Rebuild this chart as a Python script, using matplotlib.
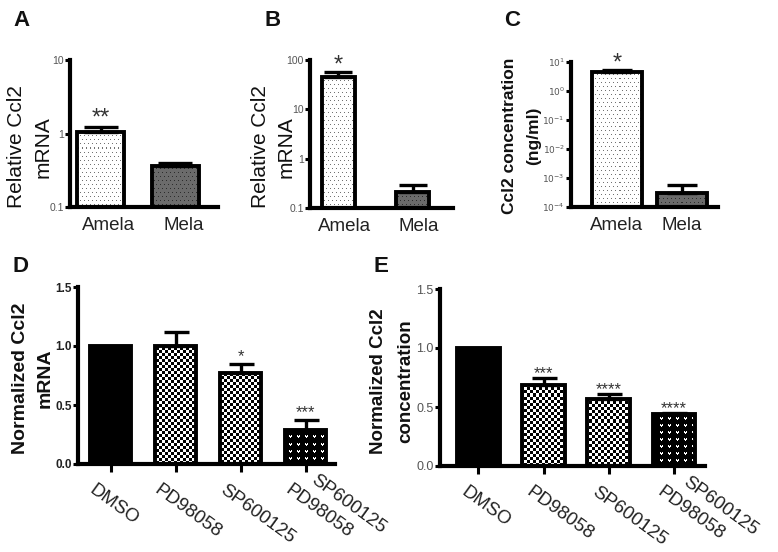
import numpy as np
import matplotlib
matplotlib.use("Agg")
import matplotlib.pyplot as plt
from matplotlib.transforms import ScaledTranslation, blended_transform_factory
from matplotlib.ticker import FixedLocator, NullLocator

plt.rcParams['font.family'] = ['Liberation Sans', 'DejaVu Sans']

# ---------------- data ----------------
A_cats = ["Amela", "Mela"]
A_vals = [1.06, 0.36]
A_err = [0.16, 0.04]
A_stars = ["**", ""]

B_cats = ["Amela", "Mela"]
B_vals = [45.0, 0.21]
B_err = [12.0, 0.08]
B_stars = ["*", ""]

C_cats = ["Amela", "Mela"]
C_vals = [4.5, 3.0e-4]
C_err = [0.8, 2.7e-4]
C_stars = ["*", ""]

D_cats = ["DMSO", "PD98058", "SP600125", "SP600125\nPD98058"]
D_vals = [1.0, 1.0, 0.77, 0.29]
D_err = [0.0, 0.12, 0.08, 0.08]
D_stars = ["", "", "*", "***"]

E_cats = ["DMSO", "PD98058", "SP600125", "SP600125\nPD98058"]
E_vals = [1.0, 0.69, 0.57, 0.44]
E_err = [0.0, 0.055, 0.04, 0.01]
E_stars = ["", "***", "****", "****"]

W, H = 778, 552
fig = plt.figure(figsize=(W / 100, H / 100), dpi=100)


def rect(x0, x1, y0, y1):
    return [x0 / W, 1 - y1 / H, (x1 - x0) / W, (y1 - y0) / H]


def pattern(kind, w, h):
    yy, xx = np.mgrid[0:h, 0:w]
    img = np.ones((h, w, 3))
    if kind == "dots_light":
        m = ((xx + 2 * ((yy // 4) % 2)) % 4 == 0) & (yy % 4 == 0)
        img[m] = 0.45
    elif kind == "dots_dark":
        img[:] = 0.42
        m = ((xx + 2 * ((yy // 4) % 2)) % 4 == 0) & (yy % 4 == 0)
        img[m] = 0.18
    elif kind == "check":
        m = ((xx // 3) + (yy // 3)) % 2 == 0
        img[m] = 0.0
    elif kind == "diamond":
        P = 6
        m = ((xx - yy) % P == 0) | ((xx + yy) % P == 0)
        dx = (xx % P) - P // 2
        dy = (yy % P) - P // 2
        d = (np.abs(dx) + np.abs(dy)) <= 1
        dx2 = ((xx + P // 2) % P) - P // 2
        dy2 = ((yy + P // 2) % P) - P // 2
        d2 = (np.abs(dx2) + np.abs(dy2)) <= 1
        img[m | d | d2] = 0.0
    elif kind == "hearts":
        img[:] = 0.0
        px, py = xx % 8, yy % 7
        m = (((px == 3) | (px == 5)) & (py == 2)) | \
            ((px >= 3) & (px <= 5) & (py == 3)) | ((px == 4) & (py == 4))
        img[m] = 1.0
    return img


def draw_bars(ax, rectpx, x, vals, errs, width, bottom, faces, pats, capsize,
              stars, star_size, star_off=1):
    bars = ax.bar(x, np.array(vals) - bottom, bottom=bottom, width=width,
                  color=faces, linewidth=0, zorder=1)
    w = int(round(rectpx[1] - rectpx[0]))
    h = int(round(rectpx[3] - rectpx[2]))
    for b, p in zip(bars, pats):
        if p is None:
            continue
        im = ax.imshow(pattern(p, w, h), extent=(0, 1, 0, 1), transform=ax.transAxes,
                       interpolation="nearest", aspect="auto", origin="upper", zorder=1.5)
        im.set_clip_path(b)
    ax.bar(x, np.array(vals) - bottom, bottom=bottom, width=width, fill=False,
           edgecolor="k", linewidth=2.8, zorder=3)
    xe = [xi for xi, e in zip(x, errs) if e > 0]
    ve = [v for v, e in zip(vals, errs) if e > 0]
    ee = [e for e in errs if e > 0]
    ax.errorbar(xe, ve, yerr=[np.zeros(len(ee)), ee], fmt="none", ecolor="k",
                elinewidth=2.4, capsize=capsize, capthick=2.4, zorder=2.5)
    for xi, v, e, s in zip(x, vals, errs, stars):
        if s:
            ax.annotate(s, (xi, v + e), xytext=(0, star_off), textcoords="offset points",
                        ha="center", va="bottom", fontsize=star_size, color="#333333")


def style(ax, ylim, yticks, ylabels, tcolor, tsize, tweight="normal", xt=False):
    for s in ["top", "right"]:
        ax.spines[s].set_visible(False)
    for s in ["left", "bottom"]:
        ax.spines[s].set_linewidth(3.0)
    ax.set_ylim(*ylim)
    ax.yaxis.set_major_locator(FixedLocator(yticks))
    ax.yaxis.set_minor_locator(NullLocator())
    ax.set_yticklabels(ylabels, fontsize=tsize, color=tcolor, fontweight=tweight)
    ax.tick_params(axis="y", length=3.5, width=2.2, pad=1, direction="out")
    if xt:
        ax.tick_params(axis="x", length=5.5, width=2.2, direction="out")
    else:
        ax.tick_params(axis="x", length=0, pad=7)


def shift_xlabels(ax, dxpx):
    for lab in ax.get_xticklabels():
        lab.set_transform(lab.get_transform() +
                          ScaledTranslation(dxpx / 100, 0, fig.dpi_scale_trans))


# ---------- panel A ----------
rA = (70, 218, 60, 207)
axA = fig.add_axes(rect(*rA))
axA.set_yscale("log")
draw_bars(axA, rA, [0, 1], A_vals, A_err, 0.62, 0.1, ["white", "#6b6b6b"],
          ["dots_light", "dots_dark"], 12, A_stars, 17, -2)
style(axA, (0.1, 10), [0.1, 1, 10], ["0.1", "1", "10"], "#555555", 7.5)
axA.set_xlim(-0.407, 1.567)
axA.set_xticks([0, 1])
axA.set_xticklabels(A_cats, fontsize=13.5, color="#222222")
shift_xlabels(axA, 8)

# ---------- panel B ----------
rB = (310, 453, 60, 208)
axB = fig.add_axes(rect(*rB))
axB.set_yscale("log")
draw_bars(axB, rB, [0, 1], B_vals, B_err, 0.44, 0.1, ["white", "#6b6b6b"],
          ["dots_light", "dots_dark"], 10, B_stars, 17, -3)
style(axB, (0.1, 100), [0.1, 1, 10, 100], ["0.1", "1", "10", "100"], "#555555", 7.5)
axB.set_xlim(-0.38, 1.54)
axB.set_xticks([0, 1])
axB.set_xticklabels(B_cats, fontsize=13.5, color="#222222")
shift_xlabels(axB, 6)

# ---------- panel C ----------
rC = (571, 718, 62, 207)
axC = fig.add_axes(rect(*rC))
axC.set_yscale("log")
draw_bars(axC, rC, [0, 1], C_vals, C_err, 0.78, 1e-4, ["white", "#6b6b6b"],
          ["dots_light", "dots_dark"], 11, C_stars, 17, -3)
style(axC, (1e-4, 10), [1e-4, 1e-3, 1e-2, 1e-1, 1, 10],
      ["$10^{-4}$", "$10^{-3}$", "$10^{-2}$", "$10^{-1}$", "$10^{0}$", "$10^{1}$"],
      "#555555", 6.5)
axC.set_xlim(-0.708, 1.554)
axC.set_xticks([0, 1])
axC.set_xticklabels(C_cats, fontsize=13.5, color="#222222")


def rot_labels(ax, cats, dx=-12, dy=-17, ang=36, size=13.5):
    base = blended_transform_factory(ax.transData, ax.transAxes)
    c, s = np.cos(np.radians(ang)), np.sin(np.radians(ang))
    for i, lab in enumerate(cats):
        lines = lab.split("\n")
        n = len(lines)
        for j, ln in enumerate(lines):
            k = n - 1 - j
            ox = dx + k * (16 * c + 23 * s)
            oy = dy + k * (-16 * s + 23 * c)
            tr = base + ScaledTranslation(ox / 100, oy / 100, fig.dpi_scale_trans)
            ax.text(i, 0, ln, transform=tr, rotation=-ang, rotation_mode="anchor",
                    ha="left", va="top", fontsize=size, color="#222222")


# ---------- panel D ----------
rD = (78, 335, 287, 464)
axD = fig.add_axes(rect(*rD))
draw_bars(axD, rD, [0, 1, 2, 3], D_vals, D_err, 0.63, 0.0,
          ["black", "white", "white", "black"], [None, "check", "diamond", "hearts"],
          9, D_stars, 12, 0)
style(axD, (0, 1.5), [0, 0.5, 1.0, 1.5], ["0.0", "0.5", "1.0", "1.5"], "#222222", 8.5,
      "bold", xt=True)
axD.set_xlim(-0.5, 3.45)
axD.set_xticks([0, 1, 2, 3])
axD.set_xticklabels([])
rot_labels(axD, D_cats, dx=-14)

# ---------- panel E ----------
rE = (440, 705, 289, 466)
axE = fig.add_axes(rect(*rE))
draw_bars(axE, rE, [0, 1, 2, 3], E_vals, E_err, 0.65, 0.0,
          ["black", "white", "white", "black"], [None, "check", "diamond", "hearts"],
          9, E_stars, 12, -2)
style(axE, (0, 1.5), [0, 0.5, 1.0, 1.5], ["0.0", "0.5", "1.0", "1.5"], "#555555", 9,
      xt=True)
axE.set_xlim(-0.59, 3.48)
axE.set_xticks([0, 1, 2, 3])
axE.set_xticklabels([])
rot_labels(axE, E_cats, dx=-10)

# ---------- y labels (one text per line, at the column centres) ----------
ylabs = [
    (["Relative Ccl2", "mRNA"], [17, 43], 147, 15, "normal"),
    (["Relative Ccl2", "mRNA"], [261, 286], 147, 15, "normal"),
    (["Ccl2 concentration", "(ng/ml)"], [510, 534], 136, 12.5, "bold"),
    (["Normalized Ccl2", "mRNA"], [20.5, 45], 378, 14, "bold"),
    (["Normalized Ccl2", "concentration"], [378.5, 406], 381, 13.5, "bold"),
]
for lines, xs, y, fs, fw in ylabs:
    for t, x in zip(lines, xs):
        fig.text(x / W, 1 - y / H, t, rotation=90, ha="center", va="center",
                 fontsize=fs, fontweight=fw, color="#111111")

# ---------- panel letters ----------
for t, x, y in [("A", 21, 20), ("B", 273, 20), ("C", 512, 20), ("D", 21, 267), ("E", 381, 267)]:
    fig.text(x / W, 1 - y / H, t, ha="center", va="center", fontsize=16,
             fontweight="bold", color="#111111")

fig.savefig("out.png", dpi=100)
